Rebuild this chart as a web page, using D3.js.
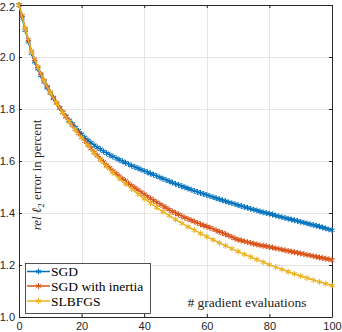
<!DOCTYPE html>
<html>
<head>
<meta charset="utf-8">
<script src="https://cdn.jsdelivr.net/npm/d3@7"></script>
<style>
  body { margin: 0; background: #fff; }
  svg { display: block; }
</style>
</head>
<body>
<svg id="chart" width="342" height="332"></svg>
<script>
// values, x = gradient evaluations
var sgdValues = [2.200, 2.150, 2.103, 2.058, 2.014, 1.982, 1.955, 1.929, 1.905, 1.882,
  1.861, 1.841, 1.822, 1.804, 1.788, 1.772, 1.757, 1.743, 1.729, 1.716,
  1.703, 1.691, 1.680, 1.670, 1.661, 1.652, 1.645, 1.637, 1.630, 1.623,
  1.617, 1.611, 1.605, 1.599, 1.593, 1.588, 1.582, 1.577, 1.572, 1.567,
  1.562, 1.557, 1.552, 1.547, 1.542, 1.537, 1.532, 1.527, 1.522, 1.517,
  1.512, 1.508, 1.503, 1.499, 1.494, 1.490, 1.485, 1.481, 1.477, 1.473,
  1.469, 1.465, 1.461, 1.457, 1.453, 1.449, 1.445, 1.441, 1.438, 1.434,
  1.430, 1.427, 1.423, 1.420, 1.416, 1.413, 1.410, 1.406, 1.403, 1.400,
  1.397, 1.394, 1.390, 1.387, 1.384, 1.381, 1.378, 1.375, 1.372, 1.369,
  1.366, 1.363, 1.360, 1.357, 1.354, 1.351, 1.348, 1.344, 1.341, 1.337,
  1.334];
var inertiaValues = [2.200, 2.158, 2.110, 2.066, 2.022, 1.990, 1.962, 1.935, 1.910, 1.887,
  1.865, 1.844, 1.824, 1.805, 1.787, 1.770, 1.754, 1.738, 1.722, 1.707,
  1.692, 1.677, 1.662, 1.648, 1.634, 1.621, 1.608, 1.596, 1.584, 1.573,
  1.562, 1.552, 1.542, 1.532, 1.523, 1.514, 1.505, 1.497, 1.489, 1.480,
  1.472, 1.464, 1.456, 1.448, 1.441, 1.434, 1.427, 1.420, 1.413, 1.406,
  1.400, 1.394, 1.388, 1.382, 1.377, 1.372, 1.367, 1.362, 1.357, 1.352,
  1.348, 1.343, 1.338, 1.333, 1.328, 1.323, 1.318, 1.313, 1.308, 1.302,
  1.297, 1.294, 1.291, 1.288, 1.285, 1.282, 1.279, 1.276, 1.274, 1.272,
  1.269, 1.267, 1.264, 1.262, 1.259, 1.257, 1.254, 1.252, 1.249, 1.247,
  1.244, 1.242, 1.239, 1.237, 1.234, 1.232, 1.229, 1.227, 1.224, 1.222,
  1.219];
// SLBFGS is sampled every 2 evaluations
var slbfgsX = [0, 2, 4, 6, 8, 10, 12, 14, 16, 18, 20, 22, 24, 26, 28, 30, 32, 34, 36, 38,
  40, 42, 44, 46, 48, 50, 52, 54, 56, 58, 60, 62, 64, 66, 68, 70, 72, 74, 76, 78,
  80, 82, 84, 86, 88, 90, 92, 94, 96, 98, 100];
var slbfgsValues = [2.200, 2.108, 2.020, 1.960, 1.908, 1.862, 1.822, 1.785, 1.752, 1.720,
  1.689, 1.659, 1.631, 1.604, 1.579, 1.555, 1.533, 1.512, 1.492, 1.473,
  1.455, 1.438, 1.421, 1.405, 1.390, 1.375, 1.361, 1.347, 1.334, 1.321,
  1.309, 1.297, 1.285, 1.274, 1.263, 1.252, 1.241, 1.231, 1.221, 1.211,
  1.201, 1.192, 1.183, 1.174, 1.166, 1.158, 1.150, 1.142, 1.135, 1.128,
  1.121];
var seriesNames = ["SGD", "SGD with inertia", "SLBFGS"];
var seriesColors = ["#0072BD", "#D95319", "#EDB120"];
var xTicks = [0, 20, 40, 60, 80, 100];
var yTicks = [1.0, 1.2, 1.4, 1.6, 1.8, 2.0, 2.2];

var box = {left: 19, right: 332, top: 5, bottom: 317};
var axisColor = "#262626";
var tickFont = "'Liberation Sans', Arial, sans-serif";
var labelFont = "'Liberation Serif', 'DejaVu Serif', serif";

var svg = d3.select("#chart");

var x = d3.scaleLinear().domain([0, 100]).range([box.left, box.right]);
var y = d3.scaleLinear().domain([1.0, 2.2]).range([box.bottom, box.top]);

var series = [
  sgdValues.map(function(v, i){ return [i, v]; }),
  inertiaValues.map(function(v, i){ return [i, v]; }),
  slbfgsValues.map(function(v, i){ return [slbfgsX[i], v]; })
];

//grid lines
var grid = svg.append("g").attr("stroke", "#e5e5e5").attr("stroke-width", 1);
grid.selectAll("line.gx").data(xTicks.slice(1, -1)).enter().append("line")
  .attr("x1", function(d){ return Math.round(x(d)) + 0.5; })
  .attr("x2", function(d){ return Math.round(x(d)) + 0.5; })
  .attr("y1", box.top).attr("y2", box.bottom);
grid.selectAll("line.gy").data(yTicks.slice(1, -1)).enter().append("line")
  .attr("y1", function(d){ return Math.round(y(d)) + 0.5; })
  .attr("y2", function(d){ return Math.round(y(d)) + 0.5; })
  .attr("x1", box.left).attr("x2", box.right);

//axes with inward ticks, box on
var fmt = d3.format(".1f");
var bottomAxis = svg.append("g").attr("transform", "translate(0," + box.bottom + ")")
  .call(d3.axisBottom(x).tickValues(xTicks).tickSizeInner(-3).tickSizeOuter(0).tickPadding(5));
var leftAxis = svg.append("g").attr("transform", "translate(" + box.left + ",0)")
  .call(d3.axisLeft(y).tickValues(yTicks).tickFormat(fmt).tickSizeInner(-3).tickSizeOuter(0).tickPadding(4));
var topAxis = svg.append("g").attr("transform", "translate(0," + box.top + ")")
  .call(d3.axisTop(x).tickValues(xTicks).tickSizeInner(-3).tickSizeOuter(0).tickFormat(""));
var rightAxis = svg.append("g").attr("transform", "translate(" + box.right + ",0)")
  .call(d3.axisRight(y).tickValues(yTicks).tickSizeInner(-3).tickSizeOuter(0).tickFormat(""));

[bottomAxis, leftAxis, topAxis, rightAxis].forEach(function(a){
  a.select(".domain").attr("stroke", axisColor);
  a.selectAll(".tick line").attr("stroke", axisColor);
  a.selectAll(".tick text").attr("fill", axisColor)
    .style("font-family", tickFont).style("font-size", "11px");
});
bottomAxis.selectAll(".tick text").attr("dy", "0.71em");
//keep the top label inside the picture
leftAxis.selectAll(".tick text").filter(function(d){ return d === 2.2; }).attr("dy", "0.5em");

//curves
var line = d3.line()
  .x(function(d){ return x(d[0]); })
  .y(function(d){ return y(d[1]); });
var marker = d3.symbol().type(d3.symbolAsterisk).size(24);

var plots = svg.append("g");
series.forEach(function(data, k){
  var g = plots.append("g");
  g.append("path")
    .datum(data)
    .attr("d", line)
    .attr("fill", "none")
    .attr("stroke", seriesColors[k])
    .attr("stroke-width", 1.5);
  g.selectAll("path.mark").data(data).enter().append("path")
    .attr("class", "mark")
    .attr("d", marker)
    .attr("transform", function(d){ return "translate(" + x(d[0]) + "," + y(d[1]) + ")"; })
    .attr("fill", "none")
    .attr("stroke", seriesColors[k])
    .attr("stroke-width", 1.1);
});

//axis labels (inside the box, as in the reference)
var yLabel = svg.append("text")
  .attr("transform", "translate(41,175) rotate(-90)")
  .attr("text-anchor", "middle")
  .attr("fill", axisColor)
  .style("font-family", labelFont)
  .style("font-size", "13px");
yLabel.append("tspan").style("font-style", "italic").text("rel ℓ");
yLabel.append("tspan").attr("dy", 3).style("font-size", "9px").text("2");
yLabel.append("tspan").attr("dy", -3).text(" error in percent");

svg.append("text")
  .attr("x", 247).attr("y", 307)
  .attr("text-anchor", "middle")
  .attr("fill", axisColor)
  .style("font-family", labelFont)
  .style("font-size", "13.5px")
  .text("# gradient evaluations");

//legend
var legend = svg.append("g");
legend.append("rect")
  .attr("x", 25.5).attr("y", 263.5)
  .attr("width", 125).attr("height", 50)
  .attr("fill", "#fff")
  .attr("stroke", axisColor)
  .attr("stroke-width", 0.8);
var rowY = [271.5, 286, 301];
seriesNames.forEach(function(name, k){
  legend.append("line")
    .attr("x1", 27).attr("x2", 50)
    .attr("y1", rowY[k]).attr("y2", rowY[k])
    .attr("stroke", seriesColors[k]).attr("stroke-width", 1.5);
  legend.append("path")
    .attr("d", marker)
    .attr("transform", "translate(38.5," + rowY[k] + ")")
    .attr("fill", "none").attr("stroke", seriesColors[k]).attr("stroke-width", 1);
  legend.append("text")
    .attr("x", 51).attr("y", rowY[k])
    .attr("dy", "0.35em")
    .attr("fill", "#000")
    .style("font-family", labelFont)
    .style("font-size", "13.5px")
    .text(name);
});
</script>
</body>
</html>
